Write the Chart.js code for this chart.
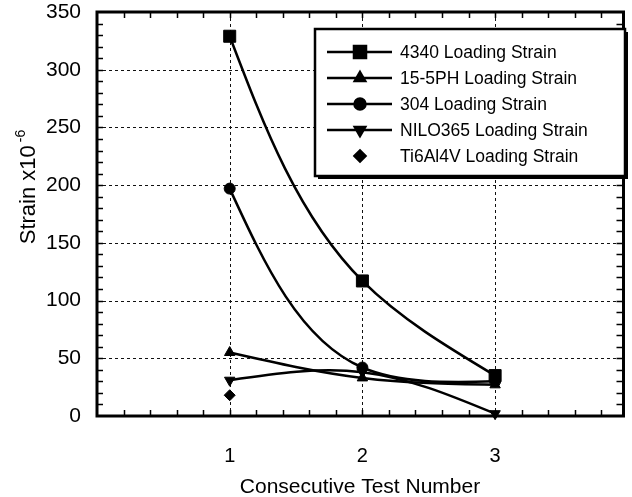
<!DOCTYPE html>
<html>
<head>
<meta charset="utf-8">
<script src="https://cdn.jsdelivr.net/npm/chart.js@4.4.0/dist/chart.umd.min.js"></script>
<style>
  html, body { margin: 0; padding: 0; background: #fff; }
  #wrap { width: 632px; height: 497px; }
</style>
</head>
<body>
<div id="wrap"><canvas id="chart" width="632" height="497"></canvas></div>
<script>
// values
const testNumbers = [1, 2, 3];
const strain4340 = [329, 117, 35];
const strain155PH = [55, 33, 27];
const strain304 = [197, 42, 30];
const strainNILO365 = [31, 38, 2];
const strainTi6Al4V = [18];
const yTicks = [0, 50, 100, 150, 200, 250, 300, 350];
const xTicks = [1, 2, 3];

const FONT = 'Arial, "Liberation Sans", Helvetica, sans-serif';

function pts(values) {
  return values.map((v, i) => ({ x: testNumbers[i], y: v }));
}

function series(label, values, style, radius, rotation, line) {
  return {
    label: label,
    data: pts(values),
    borderColor: '#000',
    backgroundColor: '#000',
    borderWidth: 2.5,
    pointStyle: style,
    pointRadius: radius,
    pointHoverRadius: radius,
    pointRotation: rotation,
    pointBackgroundColor: '#000',
    pointBorderColor: '#000',
    pointBorderWidth: 1,
    showLine: line,
    tension: 0.4,
    capBezierPoints: false,
    clip: false,
  };
}

const datasets = [
  series('4340 Loading Strain', strain4340, 'rect', 8.5, 0, true),
  series('15-5PH Loading Strain', strain155PH, 'triangle', 6, 0, true),
  series('304 Loading Strain', strain304, 'circle', 5.5, 0, true),
  series('NILO365 Loading Strain', strainNILO365, 'triangle', 6, 180, true),
  series('Ti6Al4V Loading Strain', strainTi6Al4V, 'rectRot', 5.5, 0, false),
];

// the original plot smooths with a natural spline, chord-length parameterised,
// so swap chart.js' bezier handles for those
function naturalSpline(points) {
  const n = points.length;
  if (n < 3) return;
  const h = [];
  for (let i = 0; i < n - 1; i++) {
    h.push(Math.hypot(points[i + 1].x - points[i].x, points[i + 1].y - points[i].y) || 1);
  }
  ['x', 'y'].forEach(k => {
    // tridiagonal system for first derivatives
    const a = [], b = [], c = [], d = [];
    for (let i = 0; i < n; i++) {
      if (i === 0) {
        a.push(0); b.push(2); c.push(1);
        d.push(3 * (points[1][k] - points[0][k]) / h[0]);
      } else if (i === n - 1) {
        a.push(1); b.push(2); c.push(0);
        d.push(3 * (points[i][k] - points[i - 1][k]) / h[i - 1]);
      } else {
        a.push(1 / h[i - 1]); b.push(2 * (1 / h[i - 1] + 1 / h[i])); c.push(1 / h[i]);
        d.push(3 * ((points[i][k] - points[i - 1][k]) / (h[i - 1] * h[i - 1]) +
                    (points[i + 1][k] - points[i][k]) / (h[i] * h[i])));
      }
    }
    for (let i = 1; i < n; i++) {
      const m = a[i] / b[i - 1];
      b[i] -= m * c[i - 1];
      d[i] -= m * d[i - 1];
    }
    const D = new Array(n);
    D[n - 1] = d[n - 1] / b[n - 1];
    for (let i = n - 2; i >= 0; i--) D[i] = (d[i] - c[i] * D[i + 1]) / b[i];
    for (let i = 0; i < n; i++) {
      if (i < n - 1) points[i]['cp2' + k] = points[i][k] + D[i] * h[i] / 3;
      if (i > 0) points[i]['cp1' + k] = points[i][k] - D[i] * h[i - 1] / 3;
    }
  });
}

const smoother = {
  id: 'smoother',
  beforeDatasetsDraw(chart) {
    chart.data.datasets.forEach((ds, i) => {
      const meta = chart.getDatasetMeta(i);
      if (!ds.showLine || !meta.dataset) return;
      meta.dataset.updateControlPoints(chart.chartArea);
      naturalSpline(meta.data);
    });
  },
};

// grid, frame, inner ticks, titles, boxed legend
const decor = {
  id: 'decor',
  beforeDatasetsDraw(chart) {
    const { ctx, chartArea: a, scales } = chart;
    ctx.save();
    ctx.strokeStyle = '#111';
    ctx.lineWidth = 1;
    ctx.setLineDash([3, 3]);
    yTicks.forEach(v => {
      if (v === 0 || v === 350) return;
      const y = Math.round(scales.y.getPixelForValue(v)) + 0.5;
      ctx.beginPath(); ctx.moveTo(a.left, y); ctx.lineTo(a.right, y); ctx.stroke();
    });
    xTicks.forEach(v => {
      const x = Math.round(scales.x.getPixelForValue(v)) + 0.5;
      ctx.beginPath(); ctx.moveTo(x, a.top); ctx.lineTo(x, a.bottom); ctx.stroke();
    });
    ctx.restore();
  },
  afterDatasetsDraw(chart) {
    const { ctx, chartArea: a, scales } = chart;
    ctx.save();
    ctx.strokeStyle = '#000';
    // minor ticks
    ctx.lineWidth = 1.5;
    const tl = 6;
    for (let v = 10; v < 350; v += 10) {
      const y = Math.round(scales.y.getPixelForValue(v)) + 0.5;
      ctx.beginPath();
      ctx.moveTo(a.left, y); ctx.lineTo(a.left + tl, y);
      ctx.moveTo(a.right, y); ctx.lineTo(a.right - tl, y);
      ctx.stroke();
    }
    for (let k = 1; k < 20; k++) {
      const x = Math.round(scales.x.getPixelForValue(k * 0.2)) + 0.5;
      if (x >= a.right - 2) break;
      ctx.beginPath();
      ctx.moveTo(x, a.bottom); ctx.lineTo(x, a.bottom - tl);
      ctx.moveTo(x, a.top); ctx.lineTo(x, a.top + tl);
      ctx.stroke();
    }
    // frame
    ctx.lineWidth = 3;
    ctx.strokeRect(a.left, a.top, a.right - a.left + 1, a.bottom - a.top);
    ctx.restore();
  },
  afterDraw(chart) {
    const { ctx } = chart;
    ctx.save();
    ctx.fillStyle = '#000';

    // x title
    ctx.font = '21px ' + FONT;
    ctx.textAlign = 'center';
    ctx.textBaseline = 'alphabetic';
    ctx.fillText('Consecutive Test Number', 360, 493);

    // y title with superscript
    ctx.translate(35, 187);
    ctx.rotate(-Math.PI / 2);
    ctx.font = '22px ' + FONT;
    const main = 'Strain x10';
    const mw = ctx.measureText(main).width;
    ctx.font = '14px ' + FONT;
    const sw = ctx.measureText('-6').width;
    const start = -(mw + sw + 3) / 2;
    ctx.textAlign = 'left';
    ctx.font = '22px ' + FONT;
    ctx.fillText(main, start, 0);
    ctx.font = '14px ' + FONT;
    ctx.fillText('-6', start + mw + 3, -10);
    ctx.setTransform(1, 0, 0, 1, 0, 0);

    // legend box
    const bx = 315, by = 29, bw = 310, bh = 147;
    ctx.fillStyle = '#000';
    ctx.fillRect(bx + 3, by + 3, bw, bh);
    ctx.fillStyle = '#fff';
    ctx.fillRect(bx, by, bw, bh);
    ctx.lineWidth = 2.5;
    ctx.strokeStyle = '#000';
    ctx.strokeRect(bx, by, bw, bh);

    ctx.font = '17.5px ' + FONT;
    ctx.textAlign = 'left';
    ctx.textBaseline = 'middle';
    chart.data.datasets.forEach((ds, i) => {
      const y = 52 + i * 26;
      if (ds.showLine) {
        ctx.lineWidth = 2.5;
        ctx.beginPath(); ctx.moveTo(327, y); ctx.lineTo(392, y); ctx.stroke();
      }
      ctx.fillStyle = '#000';
      Chart.helpers.drawPoint(ctx, {
        pointStyle: ds.pointStyle,
        radius: ds.pointRadius,
        rotation: ds.pointRotation,
        borderWidth: 1,
      }, 360, y);
      ctx.fill();
      ctx.fillText(ds.label, 400, y + 1);
    });
    ctx.restore();
  },
};

new Chart(document.getElementById('chart'), {
  type: 'line',
  data: { datasets: datasets },
  options: {
    responsive: false,
    animation: false,
    events: [],
    layout: { padding: { left: 0, top: 12, right: 2, bottom: 0 } },
    plugins: { legend: { display: false }, tooltip: { enabled: false } },
    scales: {
      x: {
        type: 'linear',
        min: 0,
        max: 3.96,
        afterFit(s) { s.height = 81; s.paddingLeft = 0; s.paddingRight = 0; },
        afterBuildTicks(s) { s.ticks = xTicks.map(v => ({ value: v })); },
        grid: { display: false, drawTicks: false },
        border: { display: false },
        ticks: { color: '#000', padding: 28, font: { size: 20, family: FONT } },
      },
      y: {
        min: 0,
        max: 350,
        afterFit(s) { s.width = 97; s.paddingTop = 0; s.paddingBottom = 0; },
        afterBuildTicks(s) { s.ticks = yTicks.map(v => ({ value: v })); },
        grid: { display: false, drawTicks: false },
        border: { display: false },
        ticks: { color: '#000', padding: 16, font: { size: 21, family: FONT } },
      },
    },
  },
  plugins: [decor, smoother],
});
</script>
</body>
</html>
